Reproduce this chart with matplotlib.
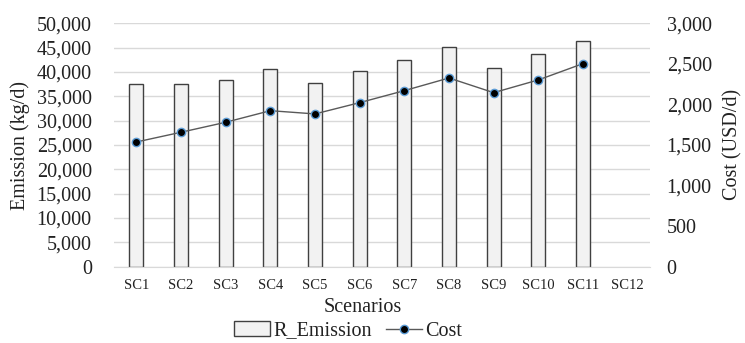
import matplotlib
matplotlib.use("Agg")
import matplotlib.pyplot as plt
import numpy as np
from matplotlib.ticker import FuncFormatter

plt.rcParams['font.family'] = ['Liberation Serif', 'DejaVu Serif']

scenarios = ["SC1", "SC2", "SC3", "SC4", "SC5", "SC6", "SC7", "SC8", "SC9", "SC10", "SC11", "SC12"]
emission = [37600, 37600, 38300, 40600, 37800, 40150, 42450, 45200, 40750, 43700, 46400, np.nan]
cost = [1537, 1657, 1780, 1923, 1883, 2022, 2170, 2326, 2145, 2302, 2503, np.nan]

W, H = 745, 343
TXT = "#222222"
fig = plt.figure(figsize=(W / 100, H / 100), dpi=100)
ax = fig.add_axes([114 / W, 1 - 266.7 / H, 536 / W, 243.4 / H])
ax2 = ax.twinx()

x = np.arange(len(scenarios))
bars = ax.bar(x, emission, width=0.31, color="#F2F2F2", edgecolor="#404040",
              linewidth=1.0, label="R_Emission", zorder=2)
line, = ax2.plot(x, cost, color="#595959", linewidth=1.0, marker="o", markersize=6,
                 markerfacecolor="black", markeredgecolor="#5B9BD5", markeredgewidth=1.0,
                 label="Cost", zorder=3)

ax.set_xlim(-0.5, len(scenarios) - 0.5)
ax.set_ylim(0, 50000)
ax.set_yticks(np.arange(0, 50001, 5000))
ax2.set_ylim(0, 3000)
ax2.set_yticks(np.arange(0, 3001, 500))
fmt = FuncFormatter(lambda v, p: f"{int(v):,}")
ax.yaxis.set_major_formatter(fmt)
ax2.yaxis.set_major_formatter(fmt)

ax.set_xticks(x)
ax.set_xticklabels(scenarios)
ax.yaxis.grid(True, color="#D9D9D9", linewidth=1.0, zorder=0)
ax.set_axisbelow(True)

for a in (ax, ax2):
    for s in a.spines.values():
        s.set_visible(False)
    a.tick_params(length=0, labelsize=14.5, colors=TXT)
ax.spines["bottom"].set_visible(True)
ax.spines["bottom"].set_color("#D9D9D9")
ax.tick_params(axis="x", labelsize=10.5, pad=9)
ax.tick_params(axis="y", pad=16)
ax2.tick_params(axis="y", pad=12)

fig.text(20 / W, 1 - 145 / H, "Emission (kg/d)", rotation=90, ha="center", va="center",
         fontsize=14.5, color=TXT)
fig.text(733 / W, 1 - 144 / H, "Cost (USD/d)", rotation=90, ha="center", va="center",
         fontsize=14.5, color=TXT)
fig.text(363 / W, 1 - 308 / H, "Scenarios", ha="center", va="center", fontsize=14.5, color=TXT)

fig.legend([bars, line], ["R_Emission", "Cost"], loc="center", bbox_to_anchor=(348 / W, 1 - 331 / H),
           ncol=2, frameon=False, fontsize=14.5, handlelength=1.8, handletextpad=0.15,
           columnspacing=0.7, borderpad=0, labelcolor=TXT)

fig.savefig("out.png", dpi=100)
